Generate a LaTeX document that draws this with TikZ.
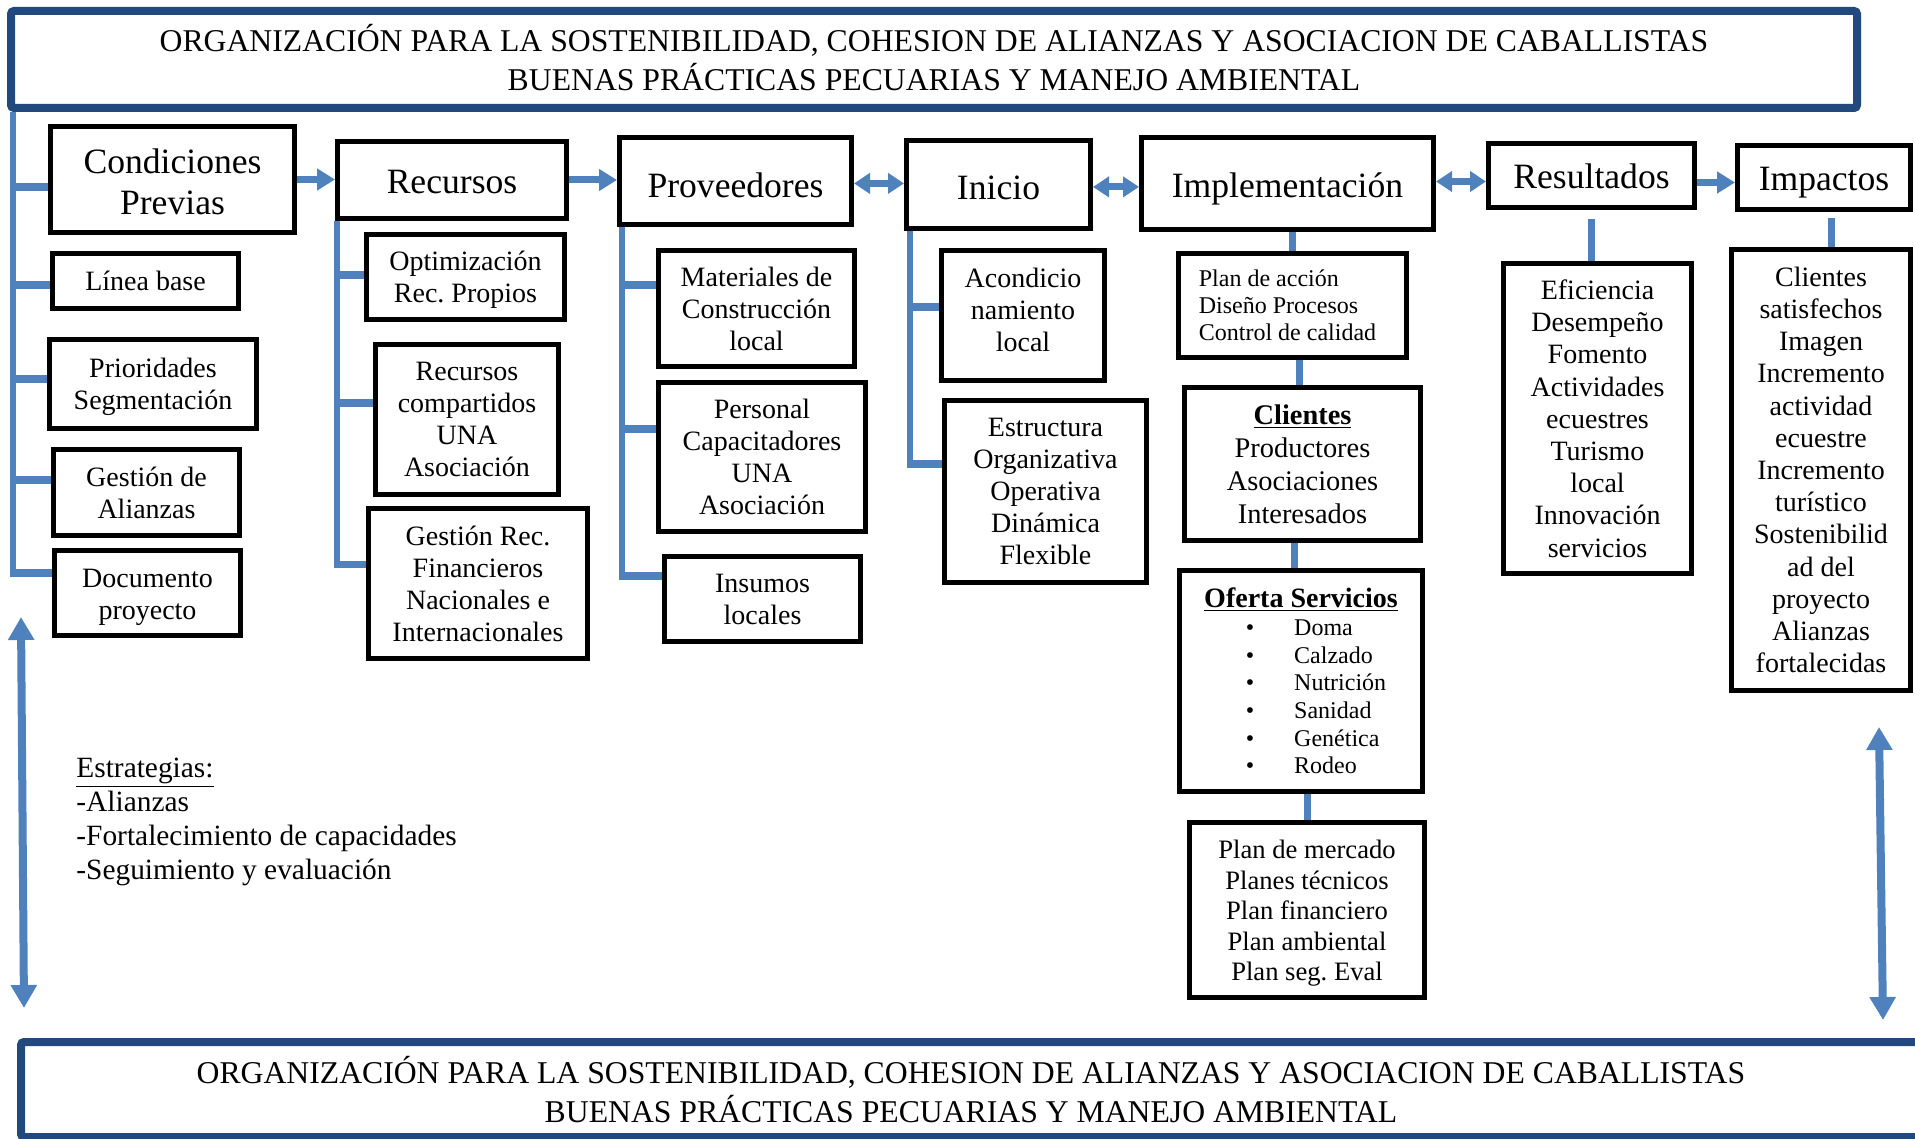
\documentclass[tikz,border=0pt]{standalone}
\usepackage{fontspec}
\setmainfont{Liberation Serif}
\usetikzlibrary{arrows.meta}
\definecolor{bandblue}{RGB}{33,73,125}
\definecolor{linkblue}{RGB}{79,129,189}
\newcommand\zzBan{\fontsize{15.85}{19.5}\selectfont}
\newcommand\zzMain{\fontsize{17.8}{20.5}\selectfont}
\newcommand\zzSub{\fontsize{14}{16}\selectfont}
\newcommand\zzList{\fontsize{14}{16.1}\selectfont}
\newcommand\zzPda{\fontsize{12}{13.5}\selectfont}
\newcommand\zzCli{\fontsize{14.2}{16.5}\selectfont}
\newcommand\zzOfe{\fontsize{14}{14}\selectfont}
\newcommand\zzItem{\fontsize{12}{13.8}\selectfont}
\newcommand\zzPdm{\fontsize{13.3}{15.2}\selectfont}
\newcommand\zzEst{\fontsize{14.7}{17}\selectfont}
\newcommand\dn[2]{\raisebox{-#1}[\height][\depth]{\begin{tabular}{@{}c@{}}#2\end{tabular}}}
\tikzset{
  box/.style={draw=black,line width=2.5pt,inner sep=0pt,align=center,font=\zzSub,text=black},
  banner/.style={draw=bandblue,line width=4pt,rounded corners=1.5pt,inner sep=0pt,align=center,font=\zzBan},
  vl/.style={linkblue,line width=3pt},
  hl/.style={linkblue,line width=3.75pt},
  cl/.style={linkblue,line width=3.5pt},
  arr/.style={linkblue,line width=3.5pt,-{Triangle[length=9pt,width=10.5pt]}},
  darr/.style={linkblue,line width=3.5pt,{Triangle[length=8pt,width=10pt]}-{Triangle[length=8pt,width=10pt]}},
  varr/.style={linkblue,line width=4pt,{Triangle[length=11.5pt,width=12.5pt]}-{Triangle[length=11.5pt,width=12.5pt]}},
}
\newcommand\mybox[7][]{\node[box,minimum width={(#5-#3-5)*0.5pt},minimum height={(#6-#4-5)*0.5pt},#1] (#2) at ({(#3+#5)/2},{(#4+#6)/2}) {#7};}
\frenchspacing
\begin{document}
\begin{tikzpicture}[x=0.5pt,y=-0.5pt]
\fill[white] (0,0) rectangle (1915,1139);
\useasboundingbox (0,0) rectangle (1915,1139);

% banners
\node[banner,minimum width=923pt,minimum height=48.5pt] (top) at (934,59.5)
 {\dn{1.8pt}{ORGANIZACIÓN PARA LA SOSTENIBILIDAD, COHESION DE ALIANZAS Y ASOCIACION DE CABALLISTAS\\BUENAS PRÁCTICAS PECUARIAS Y MANEJO AMBIENTAL}};
\node[banner,minimum width=950pt,minimum height=47.5pt] (bot) at (971,1089.5)
 {ORGANIZACIÓN PARA LA SOSTENIBILIDAD, COHESION DE ALIANZAS Y ASOCIACION DE CABALLISTAS\\BUENAS PRÁCTICAS PECUARIAS Y MANEJO AMBIENTAL};

% main row
\mybox[font=\zzMain]{cond}{48}{124}{297}{235}{\dn{3.05pt}{Condiciones\\Previas}}
\mybox[font=\zzMain]{rec}{335}{139}{569}{221}{\dn{2.45pt}{Recursos}}
\mybox[font=\zzMain]{prov}{617}{135}{854}{227}{\dn{4.3pt}{Proveedores}}
\mybox[font=\zzMain]{ini}{904}{138}{1093}{231}{\dn{3.6pt}{Inicio}}
\mybox[font=\zzMain]{impl}{1139}{135}{1436}{232}{\dn{3.1pt}{Implementación}}
\mybox[font=\zzMain]{res}{1486}{141}{1697}{210}{\dn{2.45pt}{Resultados}}
\mybox[font=\zzMain]{imp}{1735}{143}{1913}{212}{\dn{2.5pt}{Impactos}}

% column 1
\mybox{lb}{50}{251}{241}{311}{Línea base}
\mybox{prio}{47}{337}{259}{431}{\dn{1.5pt}{Prioridades\\Segmentación}}
\mybox{ga}{51}{447}{242}{538}{Gestión de\\Alianzas}
\mybox{doc}{52}{548}{243}{638}{\dn{2pt}{Documento\\proyecto}}
% column 2
\mybox{opt}{364}{232}{567}{322}{\dn{1.5pt}{Optimización\\Rec. Propios}}
\mybox{rc}{373}{342}{561}{497}{Recursos\\compartidos\\UNA\\Asociación}
\mybox{grf}{366}{506}{590}{661}{Gestión Rec.\\Financieros\\Nacionales e\\Internacionales}
% column 3
\mybox{mat}{656}{248}{857}{369}{Materiales de\\Construcción\\local}
\mybox{pers}{656}{380}{868}{534}{Personal\\Capacitadores\\UNA\\Asociación}
\mybox{ins}{662}{554}{863}{644}{Insumos\\locales}
% column 4
\mybox{aco}{939}{248}{1107}{383}{\dn{-1.25pt}{Acondicio\\namiento\\local}}
\mybox{est}{942}{398}{1149}{585}{Estructura\\Organizativa\\Operativa\\Dinámica\\Flexible}
% column 5
\mybox[font=\zzPda,align=left]{pda}{1176}{251}{1409}{360}{Plan de acción\\Diseño Procesos\\Control de calidad\hspace*{5pt}}
\mybox[font=\zzCli]{cli}{1182}{385}{1423}{543}{\textbf{\underline{Clientes}}\\Productores\\Asociaciones\\Interesados}
\mybox[font=\zzOfe]{ofe}{1177}{568}{1425}{794}{\dn{2pt}{\textbf{\underline{Oferta Servicios}}\\
 \hspace*{15pt}{\zzItem\begin{tabular}[t]{@{}l@{\hspace{20pt}}l@{}}
 \textbullet & Doma\\ \textbullet & Calzado\\ \textbullet & Nutrición\\ \textbullet & Sanidad\\ \textbullet & Genética\\ \textbullet & Rodeo
 \end{tabular}}}}
\mybox[font=\zzPdm]{pdm}{1187}{820}{1427}{1000}{\dn{1.8pt}{Plan de mercado\\Planes técnicos\\Plan financiero\\Plan ambiental\\Plan seg. Eval}}
% column 6, 7
\mybox[font=\zzList]{rsub}{1501}{261}{1694}{576}{Eficiencia\\Desempeño\\Fomento\\Actividades\\ecuestres\\Turismo\\local\\Innovación\\servicios}
\mybox[font=\zzList]{isub}{1729}{247}{1913}{693}{Clientes\\satisfechos\\Imagen\\Incremento\\actividad\\ecuestre\\Incremento\\turístico\\Sostenibilid\\ad del\\proyecto\\Alianzas\\fortalecidas}

% strategies
\node[anchor=west,align=left,font=\zzEst,inner sep=0pt] (estr) at (76,822)
 {\underline{Estrategias:}\\-Alianzas\\-Fortalecimiento de capacidades\\-Seguimiento y evaluación};

% main arrows
\draw[arr] (cond.east) -- (cond.east -| rec.west);
\draw[arr] (rec.east) -- (rec.east -| prov.west);
\draw[darr] ([yshift=-1.2pt]prov.east) -- ([yshift=-1.2pt]prov.east -| ini.west);
\draw[darr] ([yshift=-1.2pt]ini.east) -- ([yshift=-1.2pt]ini.east -| impl.west);
\draw[darr] ([yshift=1pt]impl.east) -- ([yshift=1pt]impl.east -| res.west);
\draw[arr] ([yshift=-3.5pt]res.east) -- ([yshift=-3.5pt]res.east -| imp.west);

% tree column 1
\coordinate (t1) at (13,577);
\draw[vl] (top.south -| t1) -- (t1);
\coordinate (b11) at (10,187); \draw[hl] (b11) -- (b11 -| cond.west);
\coordinate (b12) at (10,285); \draw[hl] (b12) -- (b12 -| lb.west);
\coordinate (b13) at (10,379); \draw[hl] (b13) -- (b13 -| prio.west);
\coordinate (b14) at (10,480); \draw[hl] (b14) -- (b14 -| ga.west);
\coordinate (b15) at (10,573); \draw[hl] (b15) -- (b15 -| doc.west);
% tree column 2
\coordinate (t2) at (337,568);
\draw[vl] (rec.south -| t2) -- (t2);
\coordinate (b21) at (334,275); \draw[hl] (b21) -- (b21 -| opt.west);
\coordinate (b22) at (334,403); \draw[hl] (b22) -- (b22 -| rc.west);
\coordinate (b23) at (334,564.5); \draw[hl] (b23) -- (b23 -| grf.west);
% tree column 3
\coordinate (t3) at (622,580);
\draw[vl] (prov.south -| t3) -- (t3);
\coordinate (b31) at (619,285); \draw[hl] (b31) -- (b31 -| mat.west);
\coordinate (b32) at (619,429); \draw[hl] (b32) -- (b32 -| pers.west);
\coordinate (b33) at (619,576); \draw[hl] (b33) -- (b33 -| ins.west);
% tree column 4
\coordinate (t4) at (910,468);
\draw[vl] (ini.south -| t4) -- (t4);
\coordinate (b41) at (907,307); \draw[hl] (b41) -- (b41 -| aco.west);
\coordinate (b42) at (907,464); \draw[hl] (b42) -- (b42 -| est.west);

% column 5 connectors
\draw[cl] (pda.north) -- (pda.north |- impl.south);
\draw[cl] ([xshift=-1.5pt]cli.north) -- ([xshift=-1.5pt]cli.north |- pda.south);
\draw[cl] ([xshift=-3.5pt]ofe.north) -- ([xshift=-3.5pt]ofe.north |- cli.south);
\draw[cl] (pdm.north) -- (pdm.north |- ofe.south);
% column 6, 7 connectors
\draw[cl] ([yshift=-4.5pt]res.south) -- (res.south |- rsub.north);
\draw[cl] ([xshift=3.5pt,yshift=-3pt]imp.south) -- ([xshift=3.5pt]imp.south |- isub.north);

% side double arrows
\coordinate (la1) at (21,617); \coordinate (la2) at (24,1008);
\draw[varr] (la1) -- (la2);
\coordinate (ra1) at (1879,727); \coordinate (ra2) at (1883,1020);
\draw[varr] (ra1) -- (ra2);
\end{tikzpicture}
\end{document}
